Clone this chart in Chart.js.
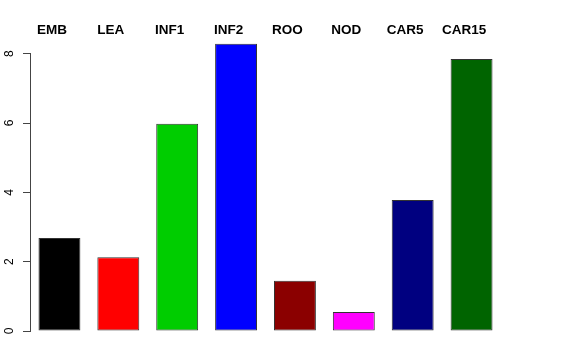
<!DOCTYPE html>
<html>
<head>
<meta charset="utf-8">
<script src="https://cdn.jsdelivr.net/npm/chart.js@4"></script>
<style>
  body { margin: 0; background: #fff; }
</style>
</head>
<body>
<canvas id="barChart" width="576" height="360"></canvas>
<script>
var categories = ['EMB', 'LEA', 'INF1', 'INF2', 'ROO', 'NOD', 'CAR5', 'CAR15'];
var values = [2.68, 2.13, 5.98, 8.29, 1.45, 0.55, 3.78, 7.85];
var barColors = ['#000000', '#ff0000', '#00cd00', '#0000ff', '#8b0000', '#ff00ff', '#000080', '#006400'];
var yTicks = [0, 2, 4, 6, 8];

Chart.defaults.font.family = "'Liberation Sans', Arial, sans-serif";

var ctx = document.getElementById('barChart').getContext('2d');
var barChart = new Chart(ctx, {
  type: 'bar',
  data: {
    labels: categories,
    datasets: [{
      data: values,
      backgroundColor: barColors,
      borderColor: '#333333',
      borderWidth: 1,
      borderSkipped: false,
      categoryPercentage: 1,
      barPercentage: 0.712,
      clip: false
    }]
  },
  options: {
    responsive: false,
    animation: false,
    layout: {
      // y axis adds its tick padding twice, so pull the left edge back
      padding: { top: 7.5, right: 75, bottom: 29, left: -9 }
    },
    plugins: {
      legend: { display: false },
      tooltip: { enabled: false }
    },
    scales: {
      x: {
        position: 'top',
        grid: { display: false, drawTicks: false },
        border: { display: false },
        ticks: {
          color: '#000',
          padding: 15,
          labelOffset: -7.5,
          font: { size: 13.5, weight: 'bold' }
        }
      },
      y: {
        min: 0,
        max: 8,
        afterBuildTicks: function (axis) {
          axis.ticks = yTicks.map(function (v) { return { value: v }; });
        },
        grid: {
          drawOnChartArea: false,
          tickLength: 7,
          color: '#444'
        },
        border: { color: '#444', width: 1 },
        ticks: {
          color: '#000',
          padding: 10,
          minRotation: 90,
          maxRotation: 90,
          crossAlign: 'center',
          font: { size: 12, lineHeight: 1 }
        }
      }
    }
  }
});
</script>
</body>
</html>
